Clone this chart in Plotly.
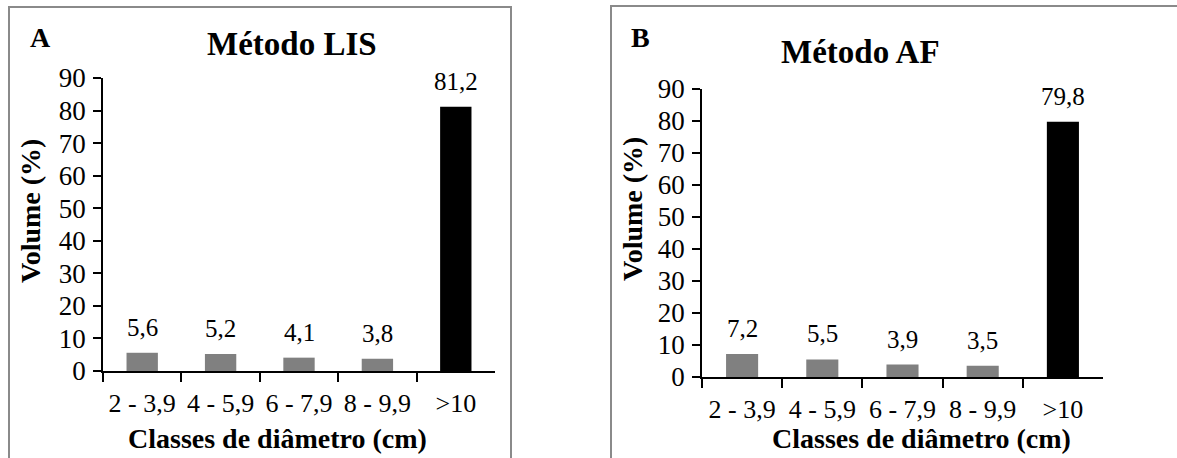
import plotly.graph_objects as go

categories = ["2 - 3,9", "4 - 5,9", "6 - 7,9", "8 - 9,9", ">10"]
values_lis = [5.6, 5.2, 4.1, 3.8, 81.2]
values_af = [7.2, 5.5, 3.9, 3.5, 79.8]
labels_lis = ["5,6", "5,2", "4,1", "3,8", "81,2"]
labels_af = ["7,2", "5,5", "3,9", "3,5", "79,8"]
bar_colors = ["#808080", "#808080", "#808080", "#808080", "#000000"]
y_ticks = [0, 10, 20, 30, 40, 50, 60, 70, 80, 90]

W, H = 1177, 458
FONT = "Liberation Serif, Times New Roman, serif"

fig = go.Figure()
fig.add_trace(go.Bar(x=categories, y=values_lis, marker=dict(color=bar_colors, line=dict(width=0)),
                     width=0.4, xaxis="x", yaxis="y", showlegend=False))
fig.add_trace(go.Bar(x=categories, y=values_af, marker=dict(color=bar_colors, line=dict(width=0)),
                     width=0.4, xaxis="x2", yaxis="y2", showlegend=False))

def xaxis(domain, anchor):
    return dict(domain=domain, anchor=anchor, type="category", range=[-0.5, 4.5],
                showline=True, linecolor="black", linewidth=1.5, ticks="outside",
                tickson="boundaries", ticklen=9, tickwidth=1.5, tickcolor="black",
                showgrid=False, zeroline=False, ticklabelstandoff=8, automargin=False,
                tickfont=dict(family=FONT, size=26, color="black"), fixedrange=True)

def yaxis(domain, anchor):
    return dict(domain=domain, anchor=anchor, range=[0, 90], tickvals=y_ticks,
                showline=True, linecolor="black", linewidth=1.5, ticks="outside",
                ticklen=8, tickwidth=1.5, tickcolor="black", showgrid=False, zeroline=False,
                automargin=False, ticklabelstandoff=2,
                tickfont=dict(family=FONT, size=27, color="black"), fixedrange=True)

fig.update_layout(
    width=W, height=H, margin=dict(l=0, r=0, t=0, b=0, pad=0, autoexpand=False),
    paper_bgcolor="white", plot_bgcolor="white",
    font=dict(family=FONT, color="black"),
    xaxis=xaxis([103 / W, 495 / W], "y"),
    yaxis=yaxis([1 - 371 / H, 1 - 78 / H], "x"),
    xaxis2=xaxis([702 / W, 1103 / W], "y2"),
    yaxis2=yaxis([1 - 377 / H, 1 - 89 / H], "x2"),
    bargap=0.6,
)

ann = []
for xa, ya, vals, labs in [("x", "y", values_lis, labels_lis), ("x2", "y2", values_af, labels_af)]:
    for c, v, t in zip(categories, vals, labs):
        ann.append(dict(x=c, y=v, xref=xa, yref=ya, text=t, showarrow=False, yanchor="bottom",
                        yshift=10, font=dict(family=FONT, size=25, color="black")))

def txt(x, y, text, size, bold=True, angle=0):
    return dict(x=x / W, y=1 - y / H, xref="paper", yref="paper", text=f"<b>{text}</b>" if bold else text,
                showarrow=False, xanchor="center", yanchor="middle", textangle=angle,
                font=dict(family=FONT, size=size, color="black"))

ann += [
    txt(40, 38, "A", 28),
    txt(292, 44, "Método LIS", 33),
    txt(30, 211, "Volume (%)", 28, angle=-90),
    txt(277, 438, "Classes de diâmetro (cm)", 28),
    txt(640, 38, "B", 28),
    txt(861, 52, "Método AF", 33),
    txt(632, 209, "Volume (%)", 28, angle=-90),
    txt(921, 438, "Classes de diâmetro (cm)", 28),
]
fig.update_layout(annotations=ann)

fig.update_layout(shapes=[
    dict(type="rect", xref="paper", yref="paper", x0=9 / W, x1=511 / W, y0=-0.1, y1=1 - 7 / H,
         line=dict(color="#8a8a8a", width=2)),
    dict(type="rect", xref="paper", yref="paper", x0=611 / W, x1=1.1, y0=-0.1, y1=1 - 6 / H,
         line=dict(color="#8a8a8a", width=2)),
])

fig.write_html("out.html")
